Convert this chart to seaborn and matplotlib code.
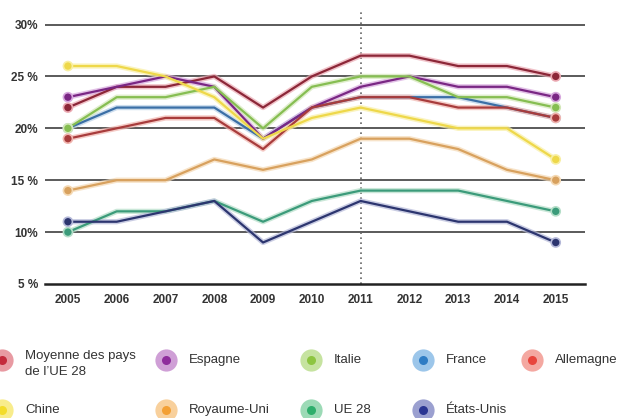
import matplotlib
matplotlib.use("Agg")
import matplotlib.pyplot as plt
import pandas as pd
import seaborn as sns
from matplotlib.lines import Line2D

years = list(range(2005, 2016))

moyenne_ue28 = [22, 24, 24, 25, 22, 25, 27, 27, 26, 26, 25]
espagne = [23, 24, 25, 24, 19, 22, 24, 25, 24, 24, 23]
italie = [20, 23, 23, 24, 20, 24, 25, 25, 23, 23, 22]
france = [20, 22, 22, 22, 19, 22, 23, 23, 23, 22, 21]
allemagne = [19, 20, 21, 21, 18, 22, 23, 23, 22, 22, 21]
chine = [26, 26, 25, 23, 19, 21, 22, 21, 20, 20, 17]
royaume_uni = [14, 15, 15, 17, 16, 17, 19, 19, 18, 16, 15]
ue28 = [10, 12, 12, 13, 11, 13, 14, 14, 14, 13, 12]
etats_unis = [11, 11, 12, 13, 9, 11, 13, 12, 11, 11, 9]

series_names = ["Moyenne des pays\nde l’UE 28", "Espagne", "Italie", "France",
                "Allemagne", "Chine", "Royaume-Uni", "UE 28", "États-Unis"]
series_values = [moyenne_ue28, espagne, italie, france, allemagne,
                 chine, royaume_uni, ue28, etats_unis]

y_ticks = [5, 10, 15, 20, 25, 30]
y_tick_labels = ["5 %", "10%", "15 %", "20%", "25 %", "30%"]

# core line colour, halo colour, legend dot colour, legend ring colour
line_colors = ["#8c2738", "#7a2784", "#86be52", "#3b6fa6", "#a83c3c",
               "#eed84a", "#d8a15e", "#3b9b7a", "#2c356f"]
halo_colors = ["#eba9b2", "#d7a8de", "#d3e8b8", "#b8d0e8", "#f1b5af",
               "#f8efa3", "#f4d8b2", "#b4dec8", "#b4b8d8"]
dot_colors = ["#c42a3c", "#8e2c9c", "#8dc540", "#2e7cc4", "#e8453c",
              "#f3dc2a", "#f3a035", "#2eae6c", "#2a3592"]
ring_colors = ["#e89aa2", "#cf9fd6", "#c6e3a0", "#9cc6ea", "#f4a8a1",
               "#f8ec8c", "#f8d09c", "#9cdab6", "#9ba0d0"]

# France sits underneath the other series
draw_order = ["France"] + [n for n in series_names if n != "France"]

df = pd.DataFrame(
    [(name, yr, v) for name, vals in zip(series_names, series_values)
     for yr, v in zip(years, vals)],
    columns=["serie", "annee", "valeur"],
)
df["ordre"] = df["serie"].map({n: i for i, n in enumerate(draw_order)})
df = df.sort_values(["ordre", "annee"])
ends = df[df["annee"].isin([years[0], years[-1]])]

sns.set_theme(style="white")
plt.rcParams["font.family"] = ["Liberation Sans", "DejaVu Sans"]

fig = plt.figure(figsize=(6.23, 4.18), dpi=100)
ax = fig.add_axes([45 / 623, 1 - 284 / 418, 540 / 623, 274 / 418])

# horizontal reference lines
for t in [10, 15, 20, 25, 30]:
    ax.axhline(t, color="#4d4d4d", lw=1.3, zorder=1)
ax.axvline(2011, color="#666666", lw=1.2, ls=(0, (1, 2)), zorder=1)

halo_pal = dict(zip(series_names, halo_colors))
line_pal = dict(zip(series_names, line_colors))

sns.lineplot(data=df, x="annee", y="valeur", hue="serie", palette=halo_pal,
             hue_order=draw_order, linewidth=3.8, legend=False, ax=ax,
             alpha=0.7, zorder=2)
sns.lineplot(data=df, x="annee", y="valeur", hue="serie", palette=line_pal,
             hue_order=draw_order, linewidth=1.6, legend=False, ax=ax,
             zorder=3)
sns.scatterplot(data=ends, x="annee", y="valeur", hue="serie",
                palette=line_pal, hue_order=draw_order, s=42,
                edgecolor=[halo_pal[n] for n in ends["serie"]], linewidth=1.2,
                legend=False, ax=ax, zorder=4)

ax.set_xlim(2004.53, 2015.6)
ax.set_ylim(5, 31.4)
ax.set_xticks(years)
ax.set_xticklabels([str(y) for y in years], fontsize=8.5, fontweight="bold",
                   color="#333333")
ax.set_yticks(y_ticks)
ax.set_yticklabels(y_tick_labels, fontsize=8.5, fontweight="bold",
                   color="#333333")
ax.set_xlabel("")
ax.set_ylabel("")
for side in ["top", "right", "left"]:
    ax.spines[side].set_visible(False)
ax.spines["bottom"].set_color("#222222")
ax.spines["bottom"].set_linewidth(1.8)
ax.tick_params(axis="x", direction="inout", length=7, width=1.2,
               color="#222222", pad=4)
ax.tick_params(axis="y", length=0, pad=5)

# legend laid out in two rows under the chart
legend_pos = [(2, 360), (166, 360), (311, 360), (423, 360), (532, 360),
              (2, 410), (166, 410), (311, 410), (423, 410)]
for i, name in enumerate(series_names):
    px, py = legend_pos[i]
    fx, fy = px / 623, 1 - py / 418
    fig.add_artist(Line2D([fx], [fy], marker="o", markersize=16,
                          color=ring_colors[i], markeredgewidth=0,
                          transform=fig.transFigure))
    fig.add_artist(Line2D([fx], [fy], marker="o", markersize=6.5,
                          color=dot_colors[i], markeredgewidth=0,
                          transform=fig.transFigure))
    tx = (px + 23) / 623
    if "\n" in name:
        fig.text(tx, 1 - 350 / 418, name, fontsize=9.5, color="#333333",
                 va="top", ha="left", linespacing=1.45)
    else:
        fig.text(tx, fy, name, fontsize=9.5, color="#333333",
                 va="center", ha="left")

fig.savefig("out.png", dpi=100)
